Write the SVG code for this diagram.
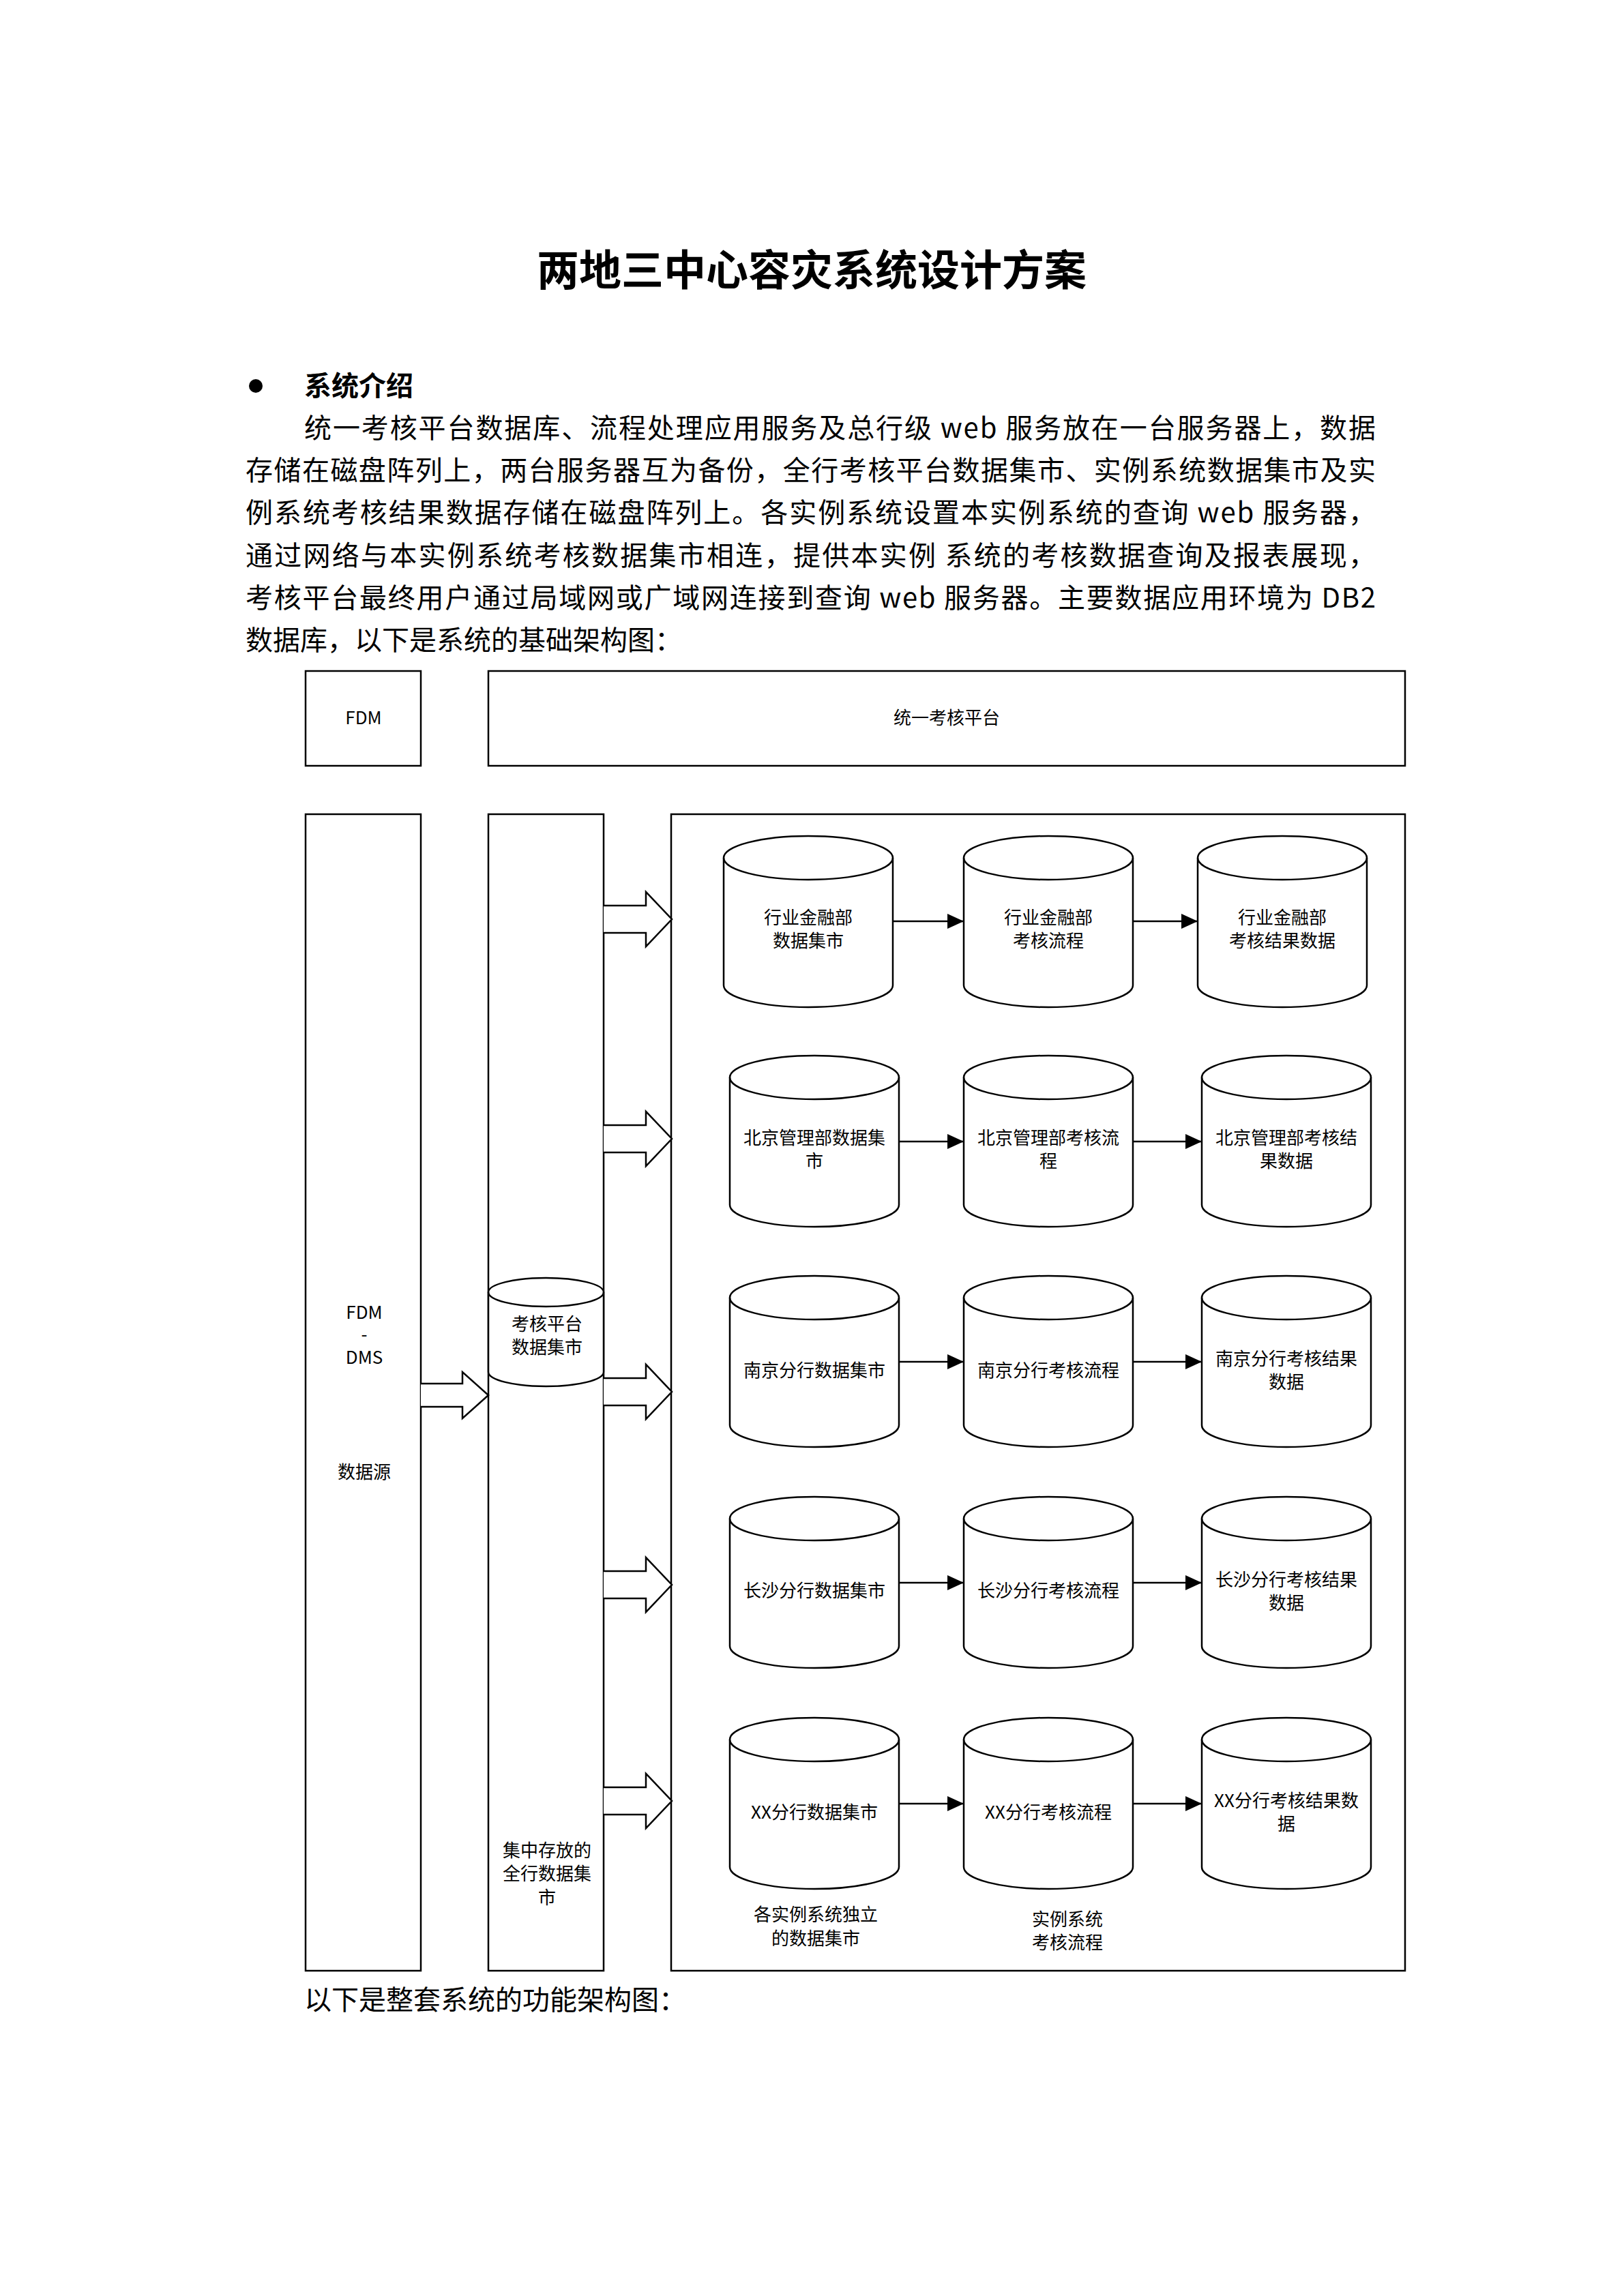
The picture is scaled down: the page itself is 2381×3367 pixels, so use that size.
<svg xmlns="http://www.w3.org/2000/svg" width="2381" height="3367" viewBox="0 0 2381 3367">
<style>
.t{font-family:"Noto Sans CJK SC","Liberation Sans",sans-serif;fill:#000}
.p{font-size:40px}
.n{font-size:26px;text-anchor:middle}
.s{fill:#fff;stroke:#000;stroke-width:2.5}
.c{fill:none;stroke:#000;stroke-width:2.5}
</style>
<defs>
<marker id="ah" markerWidth="24" markerHeight="22" refX="24" refY="11" orient="auto" markerUnits="userSpaceOnUse" viewBox="0 0 24 22"><path d="M0,0 L24,11 L0,22 Z" fill="#000"/></marker>
<symbol id="cyl" overflow="visible"><path class="s" d="M0,32 A124,32 0 0 1 248,32 V219 A124,32 0 0 1 0,219 Z"/><path class="c" d="M0,32 A124,32 0 0 0 248,32"/></symbol>
</defs>
<rect width="2381" height="3367" fill="#fff"/>
<text class="t" x="1190" y="419" font-size="62" font-weight="bold" text-anchor="middle">两地三中心容灾系统设计方案</text>
<circle cx="375" cy="566" r="10" fill="#000"/>
<text class="t p" x="446" y="580" font-weight="bold">系统介绍</text>
<text class="t p" x="446" y="642" textLength="1571" lengthAdjust="spacing">统一考核平台数据库、流程处理应用服务及总行级 web 服务放在一台服务器上，数据</text>
<text class="t p" x="360" y="704" textLength="1657" lengthAdjust="spacing">存储在磁盘阵列上，两台服务器互为备份，全行考核平台数据集市、实例系统数据集市及实</text>
<text class="t p" x="360" y="766" textLength="1657" lengthAdjust="spacing">例系统考核结果数据存储在磁盘阵列上。各实例系统设置本实例系统的查询 web 服务器，</text>
<text class="t p" x="360" y="829" textLength="1657" lengthAdjust="spacing">通过网络与本实例系统考核数据集市相连，提供本实例  系统的考核数据查询及报表展现，</text>
<text class="t p" x="360" y="891" textLength="1657" lengthAdjust="spacing">考核平台最终用户通过局域网或广域网连接到查询 web 服务器。主要数据应用环境为 DB2</text>
<text class="t p" x="360" y="953">数据库，以下是系统的基础架构图：</text>
<text class="t p" x="446" y="2947">以下是整套系统的功能架构图：</text>

<g id="fdm-top"><rect class="s" x="448" y="984" width="169" height="139"/><text class="t n" x="533" y="1062">FDM</text></g>
<g id="platform"><rect class="s" x="716" y="984" width="1344" height="139"/><text class="t n" x="1388" y="1062">统一考核平台</text></g>
<g id="source"><rect class="s" x="448" y="1194" width="169" height="1696"/>
<text class="t n" x="534" y="1934">FDM</text><text class="t n" x="534" y="1966">-</text><text class="t n" x="534" y="2000">DMS</text><text class="t n" x="534" y="2168">数据源</text></g>
<g id="central"><rect class="s" x="716" y="1194" width="169" height="1696"/>
<text class="t n" x="802" y="2723">集中存放的</text><text class="t n" x="802" y="2757">全行数据集</text><text class="t n" x="802" y="2792">市</text></g>
<g id="central-db"><path class="s" d="M716,1895 A84.5,21 0 0 1 885,1895 V2012 A84.5,21 0 0 1 716,2012 Z"/><path class="c" d="M716,1895 A84.5,21 0 0 0 885,1895"/>
<text class="t n" x="802" y="1951">考核平台</text><text class="t n" x="802" y="1985">数据集市</text></g>
<g id="instances"><rect class="s" x="984" y="1194" width="1076" height="1696"/>
<text class="t n" x="1196" y="2817">各实例系统独立</text><text class="t n" x="1196" y="2852">的数据集市</text>
<text class="t n" x="1565" y="2824">实例系统</text><text class="t n" x="1565" y="2858">考核流程</text></g>

<g id="r1c1"><use href="#cyl" x="1061" y="1226"/><text class="t n" x="1185" y="1355">行业金融部</text><text class="t n" x="1185" y="1389">数据集市</text></g>
<g id="r1c2"><use href="#cyl" x="1413" y="1226"/><text class="t n" x="1537" y="1355">行业金融部</text><text class="t n" x="1537" y="1389">考核流程</text></g>
<g id="r1c3"><use href="#cyl" x="1756" y="1226"/><text class="t n" x="1880" y="1355">行业金融部</text><text class="t n" x="1880" y="1389">考核结果数据</text></g>

<g id="r2c1"><use href="#cyl" x="1070" y="1548"/><text class="t n" x="1194" y="1678">北京管理部数据集</text><text class="t n" x="1194" y="1712">市</text></g>
<g id="r2c2"><use href="#cyl" x="1413" y="1548"/><text class="t n" x="1537" y="1678">北京管理部考核流</text><text class="t n" x="1537" y="1712">程</text></g>
<g id="r2c3"><use href="#cyl" x="1762" y="1548"/><text class="t n" x="1886" y="1678">北京管理部考核结</text><text class="t n" x="1886" y="1712">果数据</text></g>

<g id="r3c1"><use href="#cyl" x="1070" y="1871"/><text class="t n" x="1194" y="2019">南京分行数据集市</text></g>
<g id="r3c2"><use href="#cyl" x="1413" y="1871"/><text class="t n" x="1537" y="2019">南京分行考核流程</text></g>
<g id="r3c3"><use href="#cyl" x="1762" y="1871"/><text class="t n" x="1886" y="2002">南京分行考核结果</text><text class="t n" x="1886" y="2036">数据</text></g>

<g id="r4c1"><use href="#cyl" x="1070" y="2195"/><text class="t n" x="1194" y="2342">长沙分行数据集市</text></g>
<g id="r4c2"><use href="#cyl" x="1413" y="2195"/><text class="t n" x="1537" y="2342">长沙分行考核流程</text></g>
<g id="r4c3"><use href="#cyl" x="1762" y="2195"/><text class="t n" x="1886" y="2326">长沙分行考核结果</text><text class="t n" x="1886" y="2360">数据</text></g>

<g id="r5c1"><use href="#cyl" x="1070" y="2519"/><text class="t n" x="1194" y="2667">XX分行数据集市</text></g>
<g id="r5c2"><use href="#cyl" x="1413" y="2519"/><text class="t n" x="1537" y="2667">XX分行考核流程</text></g>
<g id="r5c3"><use href="#cyl" x="1762" y="2519"/><text class="t n" x="1886" y="2650">XX分行考核结果数</text><text class="t n" x="1886" y="2684">据</text></g>

<g id="connectors">
<path class="s" d="M617,2029 H678 V2012 L716,2046 L678,2080 V2063 H617"/>
<path class="s" d="M885,1328 H947 V1308 L985,1348 L947,1388 V1368 H885"/>
<path class="s" d="M885,1650 H947 V1630 L985,1670 L947,1710 V1690 H885"/>
<path class="s" d="M885,2021 H947 V2001 L985,2041 L947,2081 V2061 H885"/>
<path class="s" d="M885,2304 H947 V2284 L985,2324 L947,2364 V2344 H885"/>
<path class="s" d="M885,2621 H947 V2601 L985,2641 L947,2681 V2661 H885"/>
<g class="c" marker-end="url(#ah)" stroke-width="3">
<line x1="1310" y1="1351" x2="1413" y2="1351"/><line x1="1661" y1="1351" x2="1756" y2="1351"/>
<line x1="1318" y1="1674" x2="1413" y2="1674"/><line x1="1661" y1="1674" x2="1762" y2="1674"/>
<line x1="1318" y1="1997" x2="1413" y2="1997"/><line x1="1661" y1="1997" x2="1762" y2="1997"/>
<line x1="1318" y1="2321" x2="1413" y2="2321"/><line x1="1661" y1="2321" x2="1762" y2="2321"/>
<line x1="1318" y1="2645" x2="1413" y2="2645"/><line x1="1661" y1="2645" x2="1762" y2="2645"/>
</g>
</g>
</svg>
